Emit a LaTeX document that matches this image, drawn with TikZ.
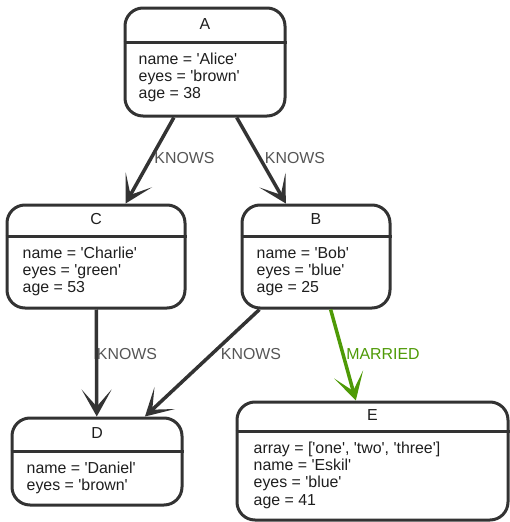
\documentclass[tikz,border=0pt]{standalone}
\usepackage{fontspec}
\setmainfont{Liberation Sans}
\usetikzlibrary{arrows.meta,calc}

\definecolor{ink}{HTML}{333333}
\definecolor{txt}{HTML}{1E1E1E}
\definecolor{lblgray}{HTML}{555555}
\definecolor{wed}{HTML}{4E9A06}

% straight single quote for property values
\newcommand{\sq}{\textquotesingle}

\begin{document}
\begin{tikzpicture}[x=1pt,y=-1pt,
  font=\fontsize{15.9}{17.3}\selectfont,
  entity/.style={draw=ink, line width=3pt, rounded corners=18pt, inner sep=0pt},
  divider/.style={draw=ink, line width=3pt},
  title/.style={anchor=base, inner sep=0pt, text=txt},
  props/.style={anchor=north west, align=left, inner sep=0pt, text=txt},
  rel/.style={draw=ink, line width=3.5pt,
    -{Stealth[length=27pt, width=30pt, inset=17pt]}},
  married/.style={rel, draw=wed, fill=wed},
  lbl/.style={anchor=base, inner sep=0pt, text=lblgray},
]
\useasboundingbox (0,0) rectangle (510,522);

% entity boxes: centre, width, height
\node[entity, minimum width=160pt, minimum height=108pt] (A) at (205,62) {};
\node[entity, minimum width=178pt, minimum height=103pt] (C) at (96,256.5) {};
\node[entity, minimum width=148pt, minimum height=103pt] (B) at (316,256.5) {};
\node[entity, minimum width=170pt, minimum height=87pt]  (D) at (97,461.5) {};
\node[entity, minimum width=271pt, minimum height=118pt] (E) at (372.5,461) {};

% header dividers
\draw[divider] ($(A.north west)+(0,36)$) -- ($(A.north east)+(0,36)$);
\draw[divider] ($(C.north west)+(0,33)$) -- ($(C.north east)+(0,33)$);
\draw[divider] ($(B.north west)+(0,33)$) -- ($(B.north east)+(0,33)$);
\draw[divider] ($(D.north west)+(0,35)$) -- ($(D.north east)+(0,35)$);
\draw[divider] ($(E.north west)+(0,31)$) -- ($(E.north east)+(0,31)$);

% titles
\node[title] (At) at ($(A.north)+(0,22.5)$) {A};
\node[title] (Ct) at ($(C.north)+(0,21)$) {C};
\node[title] (Bt) at ($(B.north)+(0,21)$) {B};
\node[title] (Dt) at ($(D.north)+(0,22)$) {D};
\node[title] (Et) at ($(E.north)+(0,20)$) {E};

% properties (first baseline 21.5 below the divider)
\node[props] (Ap) at ($(A.north west)+(15,36+9.4)$)
  {\strut name = \sq Alice\sq\\eyes = \sq brown\sq\\age = 38};
\node[props] (Cp) at ($(C.north west)+(17,33+9.4)$)
  {\strut name = \sq Charlie\sq\\eyes = \sq green\sq\\age = 53};
\node[props] (Bp) at ($(B.north west)+(16,33+9.4)$)
  {\strut name = \sq Bob\sq\\eyes = \sq blue\sq\\age = 25};
\node[props] (Dp) at ($(D.north west)+(16,35+9.4)$)
  {\strut name = \sq Daniel\sq\\eyes = \sq brown\sq};
\node[props] (Ep) at ($(E.north west)+(18,31+9.4)$)
  {\strut array = [\sq one\sq, \sq two\sq, \sq three\sq]\\name = \sq Eskil\sq\\eyes = \sq blue\sq\\age = 41};

% relationships
\draw[rel] (A) -- (C);
\draw[rel] (A) -- (B);
\draw[rel] (C) -- (D);
\draw[rel] (B) -- (D);
\draw[married] (B) -- (E);

% relationship labels
\node[lbl] (l1) at (184.5,163) {KNOWS};
\node[lbl] (l2) at (295,163) {KNOWS};
\node[lbl] (l3) at (127,359) {KNOWS};
\node[lbl] (l4) at (251,359) {KNOWS};
\node[lbl, text=wed] (l5) at (383,359) {MARRIED};
\end{tikzpicture}
\end{document}
